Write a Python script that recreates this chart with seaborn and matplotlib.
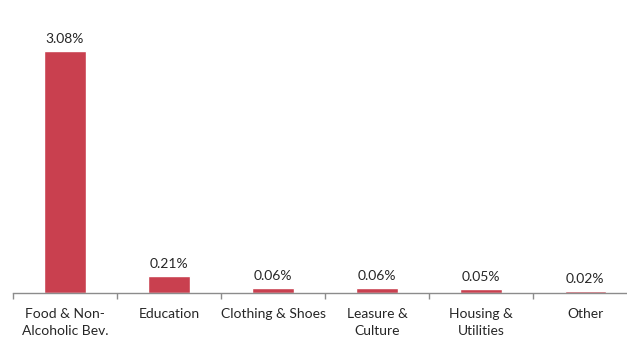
import matplotlib
matplotlib.use("Agg")
import matplotlib.pyplot as plt
from matplotlib.ticker import FixedLocator
import seaborn as sns
import pandas as pd

categories = ["Food & Non-\nAlcoholic Bev.", "Education", "Clothing & Shoes",
              "Leasure &\nCulture", "Housing &\nUtilities", "Other"]
values = [3.08, 0.21, 0.06, 0.06, 0.05, 0.02]
labels = ["3.08%", "0.21%", "0.06%", "0.06%", "0.05%", "0.02%"]

sns.set_style("white")
plt.rcParams["font.family"] = ["Lato", "DejaVu Sans"]

df = pd.DataFrame({"category": categories, "value": values})

W, H = 627, 338
fig = plt.figure(figsize=(W / 100, H / 100), dpi=100)
ax = fig.add_axes([13 / W, 1 - 293 / H, 1 - 13 / W, (293 - 10) / H])

sns.barplot(data=df, x="category", y="value", color="#C9404F",
            width=0.4, saturation=1, ax=ax)

ax.set_xlim(-0.5, 5.4)
ax.set_ylim(0, 3.60)

for i, (v, t) in enumerate(zip(values, labels)):
    ax.annotate(t, (i, v), xytext=(0, 4.5), textcoords="offset points",
                ha="center", va="bottom", fontsize=10, color="#262626")

for s in ["top", "right", "left"]:
    ax.spines[s].set_visible(False)
ax.spines["bottom"].set_color("#8c8c8c")
ax.spines["bottom"].set_linewidth(1.0)

ax.set_yticks([])
ax.set_xlabel("")
ax.set_ylabel("")
ax.tick_params(axis="x", which="major", length=0, pad=11, labelsize=10,
               labelcolor="#262626")
for lab in ax.get_xticklabels():
    lab.set_linespacing(1.45)
ax.xaxis.set_minor_locator(FixedLocator([i - 0.5 for i in range(7)]))
ax.tick_params(axis="x", which="minor", length=4, width=1, color="#8c8c8c",
               bottom=True)

fig.savefig("out.png", dpi=100)
